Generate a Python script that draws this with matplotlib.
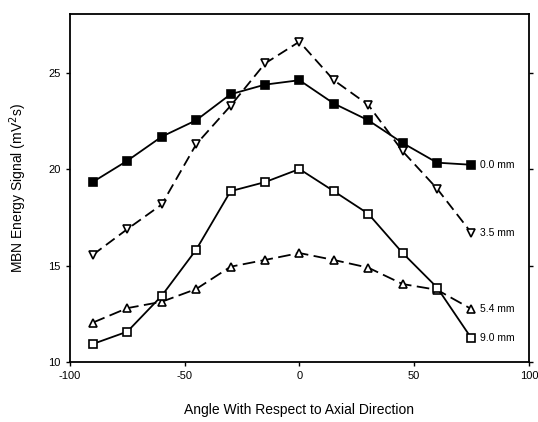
import matplotlib
matplotlib.use("Agg")
import matplotlib.pyplot as plt

angles = [-90, -75, -60, -45, -30, -15, 0, 15, 30, 45, 60, 75]
s_00 = [19.35, 20.45, 21.7, 22.55, 23.9, 24.4, 24.63, 23.42, 22.55, 21.37, 20.35, 20.24]
s_35 = [15.57, 16.9, 18.18, 21.3, 23.3, 25.5, 26.63, 24.63, 23.35, 20.94, 19.0, 16.7]
s_54 = [12.05, 12.8, 13.13, 13.79, 14.95, 15.3, 15.66, 15.3, 14.9, 14.05, 13.75, 12.75]
s_90 = [10.94, 11.58, 13.44, 15.83, 18.87, 19.34, 20.02, 18.87, 17.7, 15.66, 13.87, 11.23]
labels = ["0.0 mm", "3.5 mm", "5.4 mm", "9.0 mm"]
xticks = [-100, -50, 0, 50, 100]
yticks = [10, 15, 20, 25]

plt.rcParams['font.family'] = ['Liberation Sans', 'DejaVu Sans']
plt.rcParams['axes.unicode_minus'] = False

fig = plt.figure(figsize=(5.38, 4.22), dpi=100)
ax = fig.add_axes([0.130, 0.142, 0.853, 0.825])

series = [s_00, s_35, s_54, s_90]
styles = [
    dict(marker='s', mfc='black', ls='-', ms=6),
    dict(marker='v', mfc='white', ls=(0, (6, 3)), ms=6),
    dict(marker='^', mfc='white', ls=(0, (7, 3)), ms=6),
    dict(marker='s', mfc='white', ls='-', ms=5.5),
]
for vals, st, lab in zip(series, styles, labels):
    ax.plot(angles, vals, color='black', lw=1.3, marker=st['marker'],
            mfc=st['mfc'], mec='black', mew=1.2, ms=st['ms'], ls=st['ls'])
    ax.annotate(lab, (angles[-1], vals[-1]), xytext=(6, 0), textcoords='offset points',
                va='center', ha='left', fontsize=7.5)

ax.set_xlim(-100, 100)
ax.set_ylim(10, 28.07)
ax.set_xticks(xticks)
ax.set_yticks(yticks)
ax.tick_params(labelsize=8, length=3, width=1, direction='out')
ax.tick_params(axis='y', right=True)
for sp in ax.spines.values():
    sp.set_linewidth(1.3)
ax.set_xlabel("Angle With Respect to Axial Direction", fontsize=10, labelpad=16)
ax.set_ylabel("MBN Energy Signal (mV$^2$s)", fontsize=10, labelpad=14)

fig.savefig("out.png", dpi=100)
